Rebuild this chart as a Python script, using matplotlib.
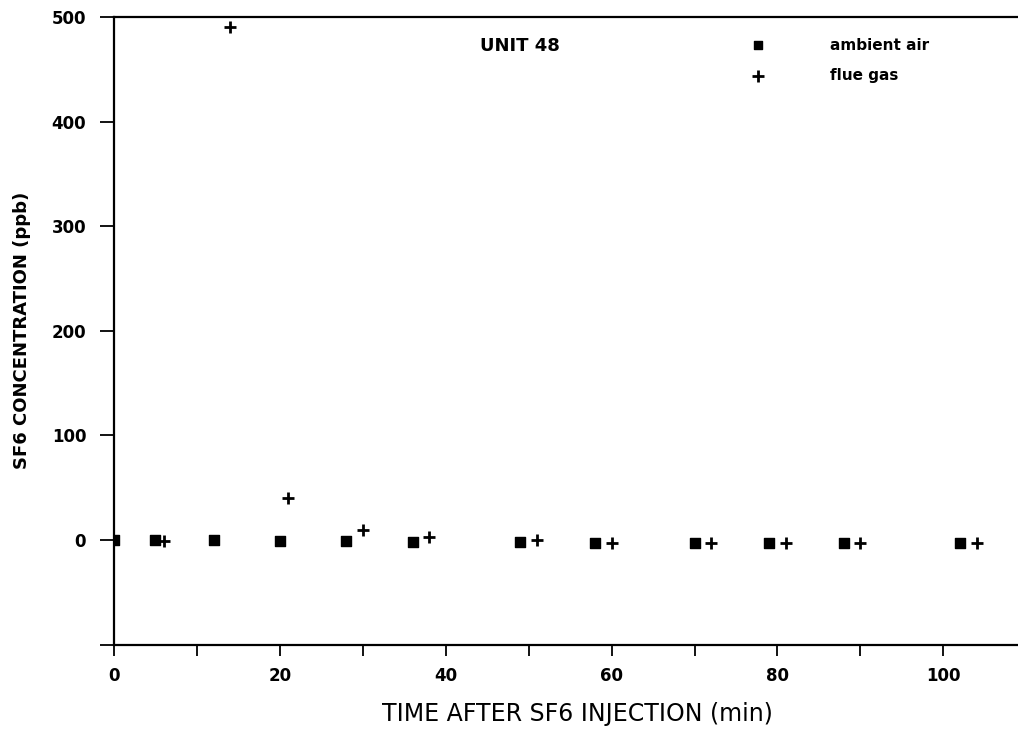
import matplotlib
matplotlib.use("Agg")
import matplotlib.pyplot as plt

# Data
ambient_time = [0, 5, 12, 20, 28, 36, 49, 58, 70, 79, 88, 102]
ambient_conc = [0, 0, 0, -1, -1, -2, -2, -3, -3, -3, -3, -3]
flue_time = [6, 14, 21, 30, 38, 51, 60, 72, 81, 90, 104]
flue_conc = [-1, 490, 40, 10, 3, 0, -3, -3, -3, -3, -3]
x_ticks = [0, 20, 40, 60, 80, 100]
y_ticks = [0, 100, 200, 300, 400, 500]

plt.rcParams['font.family'] = ['DejaVu Sans']
fig = plt.figure(figsize=(10.18, 7.36), dpi=100)
ax = fig.add_axes([0.112, 0.124, 0.888, 0.853])

ax.scatter(ambient_time, ambient_conc, marker='s', s=55, color='black', zorder=3)
ax.scatter(flue_time, flue_conc, marker='+', s=80, linewidths=2.0, color='black', zorder=3)

ax.set_xlim(0, 109)
ax.set_ylim(-100, 500)
ax.spines['right'].set_visible(False)
for s in ['left', 'bottom', 'top']:
    ax.spines[s].set_linewidth(1.6)

ax.set_xticks(x_ticks)
ax.set_xticks(range(10, 110, 20), minor=True)
ax.set_yticks([-100] + y_ticks)
ax.set_yticklabels([''] + [str(v) for v in y_ticks])
ax.tick_params(axis='x', which='both', direction='out', length=8, width=1.3, pad=8, labelsize=12)
ax.tick_params(axis='y', direction='out', length=10, width=1.3, pad=10, labelsize=12)
for lab in ax.get_xticklabels() + ax.get_yticklabels():
    lab.set_fontweight('bold')

ax.set_xlabel('TIME AFTER SF6 INJECTION (min)', fontsize=17, va='center')
ax.xaxis.set_label_coords(0.513, -0.111)
ax.set_ylabel('SF6 CONCENTRATION (ppb)', fontsize=13, fontweight='bold', va='center')
ax.yaxis.set_label_coords(-0.102, 0.50)

ax.text(0.449, 0.954, 'UNIT 48', transform=ax.transAxes, fontsize=13,
        fontweight='bold', ha='center', va='center')

# Legend-like annotations
ax.scatter([0.712], [0.955], transform=ax.transAxes, marker='s', s=40, color='black', clip_on=False)
ax.text(0.792, 0.955, 'ambient air', transform=ax.transAxes, fontsize=11,
        fontweight='bold', ha='left', va='center')
ax.scatter([0.712], [0.906], transform=ax.transAxes, marker='+', s=80, linewidths=2.0, color='black', clip_on=False)
ax.text(0.792, 0.906, 'flue gas', transform=ax.transAxes, fontsize=11,
        fontweight='bold', ha='left', va='center')

fig.savefig('out.png', dpi=100)
